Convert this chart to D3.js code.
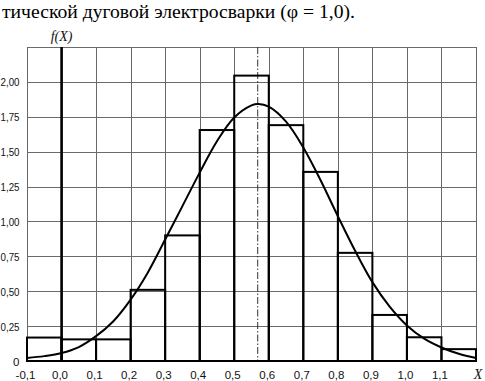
<!DOCTYPE html>
<html>
<head>
<meta charset="utf-8">
<script src="https://cdn.jsdelivr.net/npm/d3@7"></script>
<style>
  html, body { margin: 0; padding: 0; background: #fff; }
  svg { display: block; }
  .serif { font-family: "Liberation Serif", "Times New Roman", "DejaVu Serif", serif; }
  .sans { font-family: "Liberation Sans", Arial, sans-serif; }
</style>
</head>
<body>
<svg id="chart" width="485" height="381"></svg>
<script>
// ---- data ----
const titleText = "тической дуговой электросварки (φ = 1,0).";
const binStarts = [-0.1, 0.0, 0.1, 0.2, 0.3, 0.4, 0.5, 0.6, 0.7, 0.8, 0.9, 1.0, 1.1];
const binWidth = 0.1;
const binHeights = [0.168, 0.155, 0.155, 0.51, 0.90, 1.655, 2.045, 1.69, 1.355, 0.775, 0.33, 0.17, 0.085];
const curveX = [-0.1, -0.05, 0.0, 0.05, 0.1, 0.15, 0.2, 0.25, 0.3, 0.35, 0.4, 0.45, 0.5, 0.55, 0.57, 0.6, 0.65, 0.7, 0.75, 0.8, 0.85, 0.9, 0.95, 1.0, 1.05, 1.1, 1.15, 1.2];
const curveY = [0.022, 0.035, 0.057, 0.1, 0.178, 0.285, 0.44, 0.635, 0.87, 1.11, 1.35, 1.575, 1.745, 1.832, 1.842, 1.822, 1.715, 1.53, 1.295, 1.038, 0.79, 0.565, 0.39, 0.255, 0.16, 0.097, 0.052, 0.022];
const meanX = 0.568;
const xTicks = [-0.1, 0.0, 0.1, 0.2, 0.3, 0.4, 0.5, 0.6, 0.7, 0.8, 0.9, 1.0, 1.1];
const xTickLabels = ["-0,1", "0,0", "0,1", "0,2", "0,3", "0,4", "0,5", "0,6", "0,7", "0,8", "0,9", "1,0", "1,1"];
const yTicks = [0, 0.25, 0.5, 0.75, 1.0, 1.25, 1.5, 1.75, 2.0];
const yTickLabels = ["0", "0,25", "0,50", "0,75", "1,00", "1,25", "1,50", "1,75", "2,00"];
const xGrid = [-0.1, 0.0, 0.1, 0.2, 0.3, 0.4, 0.5, 0.6, 0.7, 0.8, 0.9, 1.0, 1.1, 1.2];
const yGrid = [0.25, 0.5, 0.75, 1.0, 1.25, 1.5, 1.75, 2.0, 2.25];

// ---- layout ----
const svg = d3.select("#chart");
const x = d3.scaleLinear().domain([-0.1, 1.2]).range([27, 476]);
const y = d3.scaleLinear().domain([0, 2.25]).range([361, 47]);

// title
svg.append("text")
  .attr("class", "serif")
  .attr("x", 2).attr("y", 17.5)
  .attr("font-size", 19)
  .attr("textLength", 353)
  .attr("lengthAdjust", "spacingAndGlyphs")
  .attr("fill", "#000")
  .text(titleText);

// grid
const grid = svg.append("g").attr("stroke", "#6a6a6a").attr("stroke-width", 1).attr("shape-rendering", "crispEdges");
grid.selectAll("line.v").data(xGrid).enter().append("line")
  .attr("x1", d => Math.round(x(d)) + 0.5).attr("x2", d => Math.round(x(d)) + 0.5)
  .attr("y1", y(2.25)).attr("y2", y(0));
grid.selectAll("line.h").data(yGrid).enter().append("line")
  .attr("x1", x(-0.1)).attr("x2", x(1.2))
  .attr("y1", d => Math.round(y(d)) + 0.5).attr("y2", d => Math.round(y(d)) + 0.5);

// mean dash-dot line
svg.append("line")
  .attr("x1", x(meanX)).attr("x2", x(meanX))
  .attr("y1", y(2.25)).attr("y2", y(0))
  .attr("stroke", "#333").attr("stroke-width", 1)
  .attr("stroke-dasharray", "7,2,1.5,2");

// bars (outline only)
svg.append("g").selectAll("rect").data(binStarts).enter().append("rect")
  .attr("x", d => x(d))
  .attr("width", d => x(d + binWidth) - x(d))
  .attr("y", (d, i) => y(binHeights[i]))
  .attr("height", (d, i) => y(0) - y(binHeights[i]))
  .attr("fill", "none")
  .attr("stroke", "#000")
  .attr("stroke-width", 2);

// f axis at x = 0
svg.append("line")
  .attr("x1", x(0)).attr("x2", x(0))
  .attr("y1", y(2.25)).attr("y2", y(0))
  .attr("stroke", "#000").attr("stroke-width", 2.5);

// bottom axis line
svg.append("line")
  .attr("x1", x(-0.1)).attr("x2", x(1.2))
  .attr("y1", y(0)).attr("y2", y(0))
  .attr("stroke", "#000").attr("stroke-width", 2);

// density curve
const line = d3.line()
  .x(d => x(d[0])).y(d => y(d[1]))
  .curve(d3.curveCatmullRom.alpha(0.5));
svg.append("path")
  .datum(curveX.map((v, i) => [v, curveY[i]]))
  .attr("d", line)
  .attr("fill", "none")
  .attr("stroke", "#000")
  .attr("stroke-width", 2);

// y labels
svg.append("g").selectAll("text").data(yTicks).enter().append("text")
  .attr("class", "sans")
  .attr("x", 19.5)
  .attr("y", d => y(d) + 4.5)
  .attr("text-anchor", "end")
  .attr("font-size", 11.5)
  .attr("fill", "#111")
  .each(function(d, i) {
    const t = d3.select(this).text(yTickLabels[i]);
    if (yTickLabels[i].length > 1) t.attr("textLength", 19).attr("lengthAdjust", "spacingAndGlyphs");
  });

// x labels
svg.append("g").selectAll("text").data(xTicks).enter().append("text")
  .attr("class", "sans")
  .attr("x", d => x(d) - 1.5)
  .attr("y", 379)
  .attr("text-anchor", "middle")
  .attr("font-size", 11.5)
  .attr("fill", "#111")
  .text((d, i) => xTickLabels[i]);

// axis titles
svg.append("text")
  .attr("class", "serif")
  .attr("x", x(1.2) + 2).attr("y", 379)
  .attr("text-anchor", "middle")
  .attr("font-style", "italic")
  .attr("font-size", 14)
  .attr("fill", "#111")
  .text("X");

svg.append("text")
  .attr("class", "serif")
  .attr("x", x(0)).attr("y", 41)
  .attr("text-anchor", "middle")
  .attr("font-style", "italic")
  .attr("font-size", 14)
  .attr("fill", "#111")
  .text("f(X)");
</script>
</body>
</html>
